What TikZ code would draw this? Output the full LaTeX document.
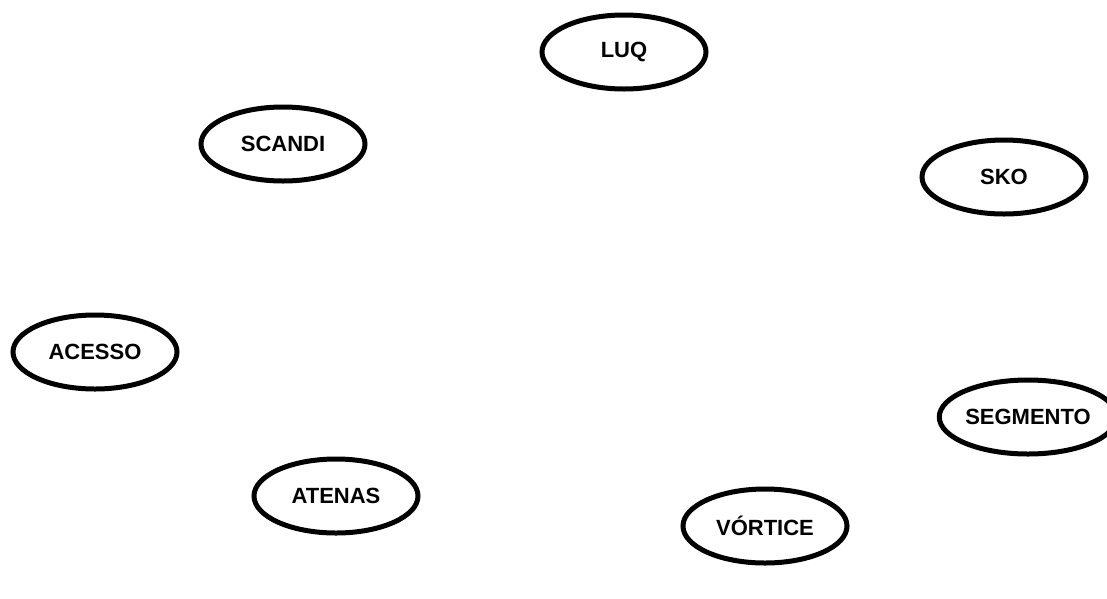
\documentclass[tikz,border=0pt]{standalone}
\usepackage{fontspec}
\setmainfont{Liberation Sans}
\usetikzlibrary{shapes.geometric}
\begin{document}
\begin{tikzpicture}[x=1pt,y=-1pt,
  topic/.style={draw=black, line width=5pt, ellipse, minimum width=164pt,
    minimum height=74pt, inner sep=0pt,
    font=\fontsize{22}{26}\selectfont\bfseries}]
\useasboundingbox (0,0) rectangle (1107,598);
\node[topic] (luq)      at (624,52)   {LUQ};
\node[topic] (scandi)   at (283,144)  {SCANDI};
\node[topic] (sko)      at (1004,177) {SKO};
\node[topic] (acesso)   at (95,352)   {ACESSO};
\node[topic] (segmento) at (1028,417) {SEGMENTO};
\node[topic] (atenas)   at (336,496)  {ATENAS};
\node[topic] (vortice)  at (765,526)  {VÓRTICE};
\end{tikzpicture}
\end{document}
